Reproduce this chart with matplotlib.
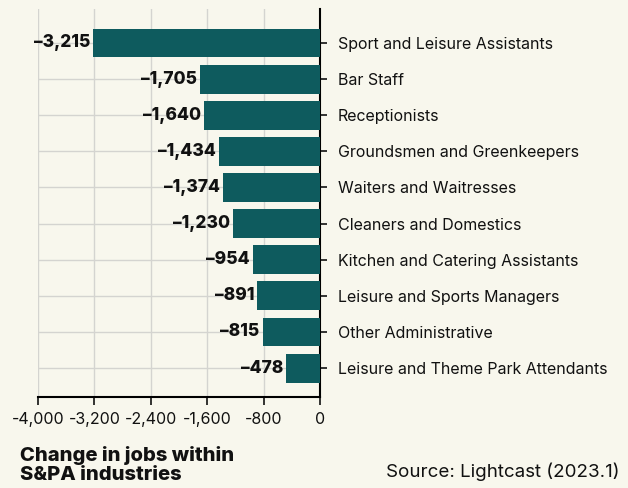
import matplotlib.pyplot as plt
from matplotlib.ticker import FuncFormatter

# data
occupations = ["Sport and Leisure Assistants", "Bar Staff", "Receptionists",
               "Groundsmen and Greenkeepers", "Waiters and Waitresses",
               "Cleaners and Domestics", "Kitchen and Catering Assistants",
               "Leisure and Sports Managers", "Other Administrative",
               "Leisure and Theme Park Attendants"]
change = [-3215, -1705, -1640, -1434, -1374, -1230, -954, -891, -815, -478]
xticks = [-4000, -3200, -2400, -1600, -800, 0]

bg = "#f8f7ed"
teal = "#0e5b5e"
plt.rcParams['font.family'] = ['Inter', 'DejaVu Sans']

fig = plt.figure(figsize=(6.28, 4.88), dpi=100, facecolor=bg)
ax = fig.add_axes([38/628, 1 - 397/488, 282/628, 388/488])
ax.set_facecolor(bg)

pos = list(range(len(occupations)))
ax.barh(pos, change, height=0.8, color=teal, zorder=3)
for p, v in zip(pos, change):
    ax.text(v - 40, p, f"{v:,}".replace("-", "\u2013"), ha='right', va='center',
            fontsize=12.5, fontweight='heavy', color='#111111', zorder=4)

ax.set_xlim(-4000, 0)
ax.set_ylim(9.8, -0.94)
ax.set_xticks(xticks)
ax.xaxis.set_major_formatter(FuncFormatter(lambda x, _: f"{int(x):,}"))
ax.set_yticks(pos)
ax.set_yticklabels(occupations)
ax.yaxis.tick_right()
ax.tick_params(axis='y', length=5, width=1.2, pad=8, labelsize=11.5, colors='#111111')
ax.tick_params(axis='x', length=6, width=1.2, pad=5, labelsize=11.5, colors='#111111')
ax.grid(True, color='#d4d4d0', linewidth=1, zorder=0)
for s in ['top', 'left']:
    ax.spines[s].set_visible(False)
ax.spines['right'].set_linewidth(1.5)
ax.spines['bottom'].set_linewidth(1.5)

fig.text(20/628, 1 - 446/488, "Change in jobs within\nS&PA industries", ha='left', va='top',
         fontsize=14.5, fontweight='heavy', color='#111111', linespacing=1.1)
fig.text(620/628, 1 - 472/488, "Source: Lightcast (2023.1)", ha='right', va='center',
         fontsize=13.5, color='#111111')

fig.savefig("out.png", dpi=100, facecolor=bg)
